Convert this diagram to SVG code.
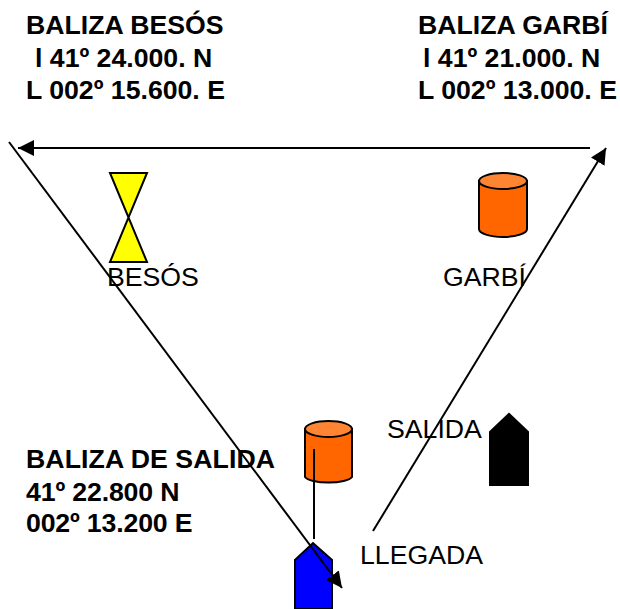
<svg xmlns="http://www.w3.org/2000/svg" width="620" height="609" viewBox="0 0 620 609">
<style>
.b{font:bold 26.67px "Liberation Sans",Arial,sans-serif;fill:#000}
.t{font:26.67px "Liberation Sans",Arial,sans-serif;fill:#000}
.l{fill:none;stroke:#000;stroke-width:2}
.k{stroke:#000;stroke-width:2}
</style>
<defs><marker id="a" markerWidth="16" markerHeight="16" refX="16" refY="8" orient="auto" markerUnits="userSpaceOnUse"><path d="M0 0L16 8L0 16Z" fill="#000"/></marker></defs>
<rect width="620" height="609" fill="#fff"/>
<g id="texts">
<text class="b" x="26" y="34">BALIZA BESÓS</text>
<text class="b" x="35" y="67">l 41º 24.000. N</text>
<text class="b" x="26" y="99">L 002º 15.600. E</text>
<text class="b" x="418" y="34">BALIZA GARBÍ</text>
<text class="b" x="423" y="67">l 41º 21.000. N</text>
<text class="b" x="418" y="99">L 002º 13.000. E</text>
<text class="b" x="26" y="468" textLength="249">BALIZA DE SALIDA</text>
<text class="b" x="26" y="501" textLength="153.500">41º 22.800 N</text>
<text class="b" x="26" y="532" textLength="166.500">002º 13.200 E</text>
</g>
<g id="besos"><path class="k" d="M110 173H147L110 262H147Z" fill="#ff0"/><text class="t" x="107" y="286">BESÓS</text></g>
<g id="garbi"><path class="k" d="M479 181V229A24 8 0 0 0 527 229V181Z" fill="#f60"/><ellipse class="k" cx="503" cy="181" rx="24" ry="8" fill="#ff8533"/><text class="t" x="443" y="286">GARBÍ</text></g>
<g id="salida-buoy"><path class="k" d="M305 429V477A24 7 0 0 0 352 477V429Z" fill="#f60"/><ellipse class="k" cx="328.500" cy="429" rx="23.500" ry="8" fill="#ff8533"/></g>
<g id="salida"><path class="k" d="M490 485V432L509 414L528 432V485Z" fill="#000"/><text class="t" x="387" y="438">SALIDA</text></g>
<g id="llegada"><path class="k" d="M295 609V560L313 543L332 560V609Z" fill="#00f"/><text class="t" x="360" y="564">LLEGADA</text></g>
<g id="connectors">
<path class="l" d="M590 148H18" marker-end="url(#a)"/>
<path class="l" d="M9 142L342 588" marker-end="url(#a)"/>
<path class="l" d="M373 531L606 148" marker-end="url(#a)"/>
<path class="l" d="M314 449V539"/>
</g>
</svg>
